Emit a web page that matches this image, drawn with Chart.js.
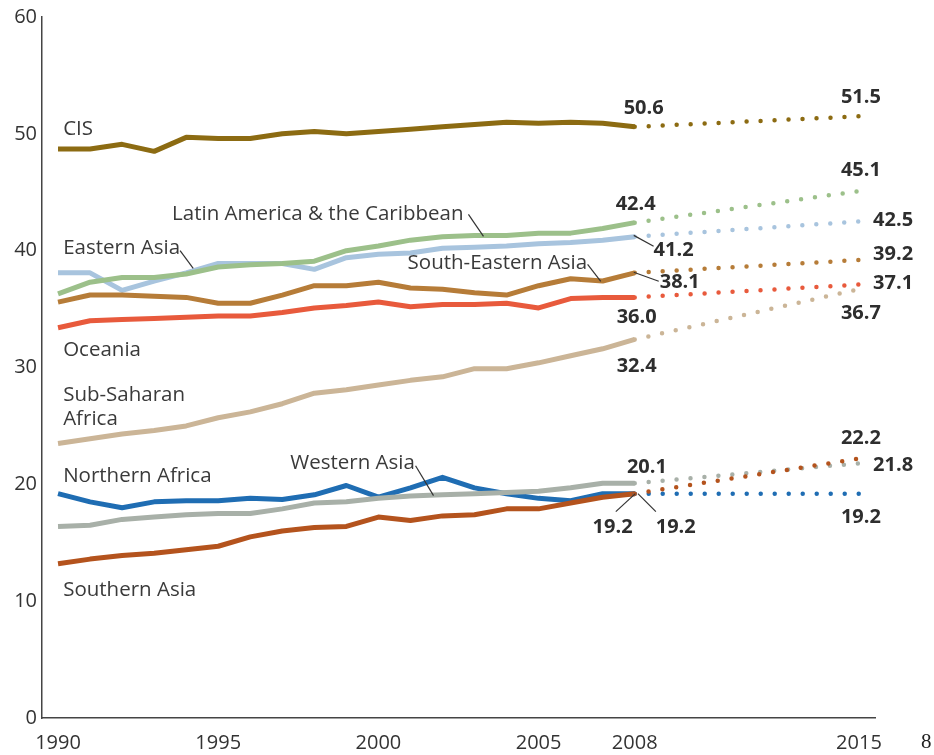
<!DOCTYPE html>
<html>
<head>
<meta charset="utf-8">
<script src="https://cdn.jsdelivr.net/npm/chart.js@4"></script>
<style>
  html,body{margin:0;padding:0;background:#fff;}
  #wrap{position:relative;width:934px;height:755px;}
  #pg{position:absolute;left:921px;top:729px;font:21px "Liberation Serif",serif;color:#222;}
</style>
</head>
<body>
<div id="wrap">
<canvas id="c" width="934" height="755"></canvas>
<div id="pg">8</div>
</div>
<script>
const years = [1990,1991,1992,1993,1994,1995,1996,1997,1998,1999,2000,2001,2002,2003,2004,2005,2006,2007,2008];
const xTickYears = [1990,1995,2000,2005,2008,2015];
const yTicks = [0,10,20,30,40,50,60];

const cis          = [48.7,48.7,49.1,48.5,49.7,49.6,49.6,50.0,50.2,50.0,50.2,50.4,50.6,50.8,51.0,50.9,51.0,50.9,50.6];
const latinAmerica = [36.3,37.3,37.7,37.7,38.0,38.6,38.8,38.9,39.1,40.0,40.4,40.9,41.2,41.3,41.3,41.5,41.5,41.9,42.4];
const easternAsia  = [38.1,38.1,36.6,37.4,38.1,38.9,38.9,38.9,38.4,39.4,39.7,39.8,40.2,40.3,40.4,40.6,40.7,40.9,41.2];
const seAsia       = [35.6,36.2,36.2,36.1,36.0,35.5,35.5,36.2,37.0,37.0,37.3,36.8,36.7,36.4,36.2,37.0,37.6,37.4,38.1];
const oceania      = [33.4,34.0,34.1,34.2,34.3,34.4,34.4,34.7,35.1,35.3,35.6,35.2,35.4,35.4,35.5,35.1,35.9,36.0,36.0];
const subSaharan   = [23.5,23.9,24.3,24.6,25.0,25.7,26.2,26.9,27.8,28.1,28.5,28.9,29.2,29.9,29.9,30.4,31.0,31.6,32.4];
const northAfrica  = [19.2,18.5,18.0,18.5,18.6,18.6,18.8,18.7,19.1,19.9,18.9,19.7,20.6,19.7,19.2,18.8,18.6,19.2,19.2];
const westernAsia  = [16.4,16.5,17.0,17.2,17.4,17.5,17.5,17.9,18.4,18.5,18.8,19.0,19.1,19.2,19.3,19.4,19.7,20.1,20.1];
const southernAsia = [13.2,13.6,13.9,14.1,14.4,14.7,15.5,16.0,16.3,16.4,17.2,16.9,17.3,17.4,17.9,17.9,18.4,18.9,19.2];

const targetYear = 2015;
const target2015 = {cis:51.5, latinAmerica:45.1, easternAsia:42.5, seAsia:39.2, oceania:37.1, subSaharan:36.7, northAfrica:19.2, westernAsia:21.8, southernAsia:22.2};

const series = [
  {key:'cis', name:'CIS', values:cis, color:'#8c6b12'},
  {key:'subSaharan', name:'Sub-Saharan Africa', values:subSaharan, color:'#cbb597'},
  {key:'oceania', name:'Oceania', values:oceania, color:'#e85a3c'},
  {key:'seAsia', name:'South-Eastern Asia', values:seAsia, color:'#b67c38'},
  {key:'latinAmerica', name:'Latin America & the Caribbean', values:latinAmerica, color:'#9cc08a'},
  {key:'easternAsia', name:'Eastern Asia', values:easternAsia, color:'#a8c4de'},
  {key:'southernAsia', name:'Southern Asia', values:southernAsia, color:'#b4531d'},
  {key:'westernAsia', name:'Western Asia', values:westernAsia, color:'#a8b0a8'},
  {key:'northAfrica', name:'Northern Africa', values:northAfrica, color:'#1f6db3'}
];

const datasets = [];
series.forEach(s => {
  const last = s.values[s.values.length-1];
  datasets.push({
    label: s.name + ' projection',
    data: [{x: years[years.length-1], y: last}, {x: targetYear, y: target2015[s.key]}],
    borderColor: s.color, borderWidth: 4.5, borderDash: [0, 14], borderCapStyle: 'round',
    pointRadius: 0, fill: false
  });
});
series.forEach(s => {
  datasets.push({
    label: s.name,
    data: years.map((y,i) => ({x: y, y: s.values[i]})),
    borderColor: s.color, borderWidth: 5, borderCapStyle: 'butt', borderJoinStyle: 'round',
    pointRadius: 0, tension: 0, fill: false
  });
});

// Annotation texts in data coordinates (year, value)
const nameLabels = [
  {t:'CIS', x:1990.16, y:50.36},
  {t:'Latin America & the Caribbean', x:1993.56, y:43.10},
  {t:'Eastern Asia', x:1990.16, y:40.20},
  {t:'South-Eastern Asia', x:2000.91, y:38.92},
  {t:'Oceania', x:1990.16, y:31.49},
  {t:'Sub-Saharan', x:1990.16, y:27.60},
  {t:'Africa', x:1990.16, y:25.60},
  {t:'Northern Africa', x:1990.16, y:20.70},
  {t:'Western Asia', x:1997.25, y:21.80},
  {t:'Southern Asia', x:1990.16, y:10.95}
];
const valueLabels = [
  {t:'50.6', x:2008.28, y:52.2, a:'center'},
  {t:'51.5', x:2015.06, y:53.09, a:'center'},
  {t:'45.1', x:2015.06, y:46.86, a:'center'},
  {t:'42.4', x:2008.03, y:43.95, a:'center'},
  {t:'42.5', x:2015.44, y:42.59, a:'left'},
  {t:'41.2', x:2008.59, y:40.03, a:'left'},
  {t:'39.2', x:2015.44, y:39.69, a:'left'},
  {t:'38.1', x:2008.78, y:37.30, a:'left'},
  {t:'37.1', x:2015.44, y:37.21, a:'left'},
  {t:'36.0', x:2008.06, y:34.31, a:'center'},
  {t:'36.7', x:2015.06, y:34.65, a:'center'},
  {t:'32.4', x:2008.06, y:30.13, a:'center'},
  {t:'22.2', x:2015.06, y:23.90, a:'center'},
  {t:'21.8', x:2015.44, y:21.59, a:'left'},
  {t:'20.1', x:2008.38, y:21.42, a:'center'},
  {t:'19.2', x:2007.31, y:16.30, a:'center'},
  {t:'19.2', x:2009.28, y:16.30, a:'center'},
  {t:'19.2', x:2015.06, y:17.15, a:'center'}
];
const leaders = [
  [2002.81,43.10,2003.28,41.22],
  [1993.81,40.00,1994.22,38.49],
  [2006.53,38.83,2006.94,37.38],
  [2007.97,41.31,2008.59,40.37],
  [2007.97,38.15,2008.75,37.38],
  [2001.16,21.59,2001.72,19.03],
  [2008.02,19.20,2007.41,17.66],
  [2008.10,19.20,2008.66,17.66]
];

const annotate = {
  id:'annotate',
  afterDatasetsDraw(chart){
    const ctx = chart.ctx, xs = chart.scales.x, ys = chart.scales.y;
    ctx.save();
    ctx.strokeStyle = '#333'; ctx.lineWidth = 1.2;
    leaders.forEach(l => {
      ctx.beginPath();
      ctx.moveTo(xs.getPixelForValue(l[0]), ys.getPixelForValue(l[1]));
      ctx.lineTo(xs.getPixelForValue(l[2]), ys.getPixelForValue(l[3]));
      ctx.stroke();
    });
    ctx.textBaseline = 'middle';
    ctx.fillStyle = '#3a3a3a';
    ctx.font = '20.5px "Open Sans", sans-serif';
    ctx.textAlign = 'left';
    nameLabels.forEach(n => ctx.fillText(n.t, xs.getPixelForValue(n.x), ys.getPixelForValue(n.y)));
    ctx.fillStyle = '#2e2e2e';
    ctx.font = 'bold 20px "Open Sans", sans-serif';
    valueLabels.forEach(v => { ctx.textAlign = v.a; ctx.fillText(v.t, xs.getPixelForValue(v.x), ys.getPixelForValue(v.y)); });
    ctx.restore();
  }
};

new Chart(document.getElementById('c'), {
  type:'line',
  data:{datasets},
  options:{
    responsive:false, animation:false, devicePixelRatio:1,
    layout:{padding:{top:15, right:59, left:0, bottom:0}},
    plugins:{legend:{display:false}, tooltip:{enabled:false}},
    scales:{
      x:{type:'linear', min:1989.5, max:2015.5,
        afterFit(s){ s.height = 37; },
        afterBuildTicks(s){ s.ticks = xTickYears.map(v => ({value:v})); },
        grid:{display:false, drawTicks:false},
        border:{display:true, color:'#444', width:1.5},
        ticks:{padding:13, color:'#333', font:{family:'"Open Sans", sans-serif', size:20}, callback:v => String(v), maxRotation:0, autoSkip:false}
      },
      y:{min:0, max:60,
        afterFit(s){ s.width = 42; },
        afterBuildTicks(s){ s.ticks = yTicks.map(v => ({value:v})); },
        grid:{display:false, drawTicks:false},
        border:{display:true, color:'#444', width:1.5},
        ticks:{padding:5, color:'#333', font:{family:'"Open Sans", sans-serif', size:20}}
      }
    }
  },
  plugins:[annotate]
});
</script>
</body>
</html>
